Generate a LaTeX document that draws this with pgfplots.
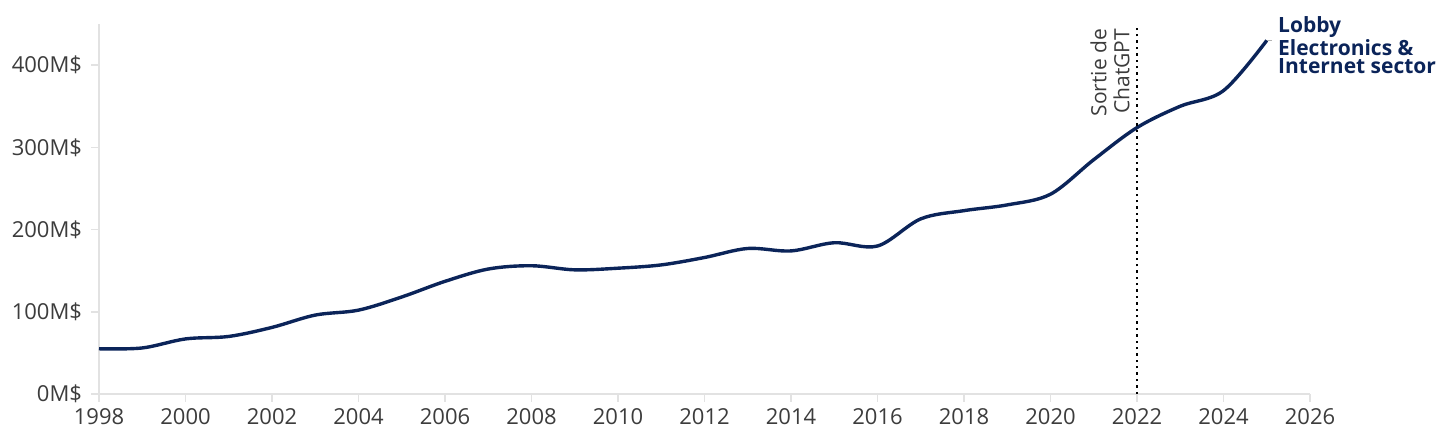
\documentclass[border=0pt]{standalone}
\usepackage{pgfplots}
\pgfplotsset{compat=1.18}
\usepackage{fontspec}
\setmainfont{Open Sans}
\definecolor{navy}{HTML}{0B2459}
\definecolor{axgray}{HTML}{E2E2E2}
\definecolor{txtgray}{HTML}{3C3C3C}
\begin{document}
\begin{tikzpicture}
\useasboundingbox (-49.5bp,-23.5bp) rectangle (678.5bp,197bp);
\begin{axis}[
  at={(0,0)}, anchor=south west,
  scale only axis,
  width=605.5bp, height=185bp,
  xmin=1998, xmax=2026, ymin=0, ymax=450,
  axis x line=bottom, axis y line=left,
  axis line style={axgray, line width=0.8bp, -},
  every tick/.style={axgray, line width=0.8bp},
  tick align=outside,
  major tick length=4bp,
  xtick={1998,2000,...,2026},
  xticklabels={1998,2000,2002,2004,2006,2008,2010,2012,2014,2016,2018,2020,2022,2024,2026},
  ytick={0,100,200,300,400},
  yticklabels={0M\$,100M\$,200M\$,300M\$,400M\$},
  ticklabel style={font=\fontsize{11bp}{12bp}\selectfont, text=txtgray},
  yticklabel style={xshift=-1bp},
  clip=false,
]
\addplot[navy, line width=1.7bp, smooth, tension=0.55] coordinates {
(1998,55) (1999,56) (2000,67) (2001,70) (2002,81) (2003,96) (2004,102)
(2005,118) (2006,137) (2007,152) (2008,156) (2009,151) (2010,153)
(2011,157) (2012,166) (2013,177) (2014,174) (2015,184) (2016,180)
(2017,213) (2018,223) (2019,230) (2020,243) (2021,285) (2022,324)
(2023,350) (2024,369) (2025,430)
};
\draw[black, line width=1.2bp, dotted] (axis cs:2022,0) -- (axis cs:2022,449);
\node[rotate=90, anchor=south east, align=right, inner sep=1bp,
      font=\fontsize{10.5bp}{11.5bp}\selectfont, text=txtgray]
  at ([xshift=-2.5bp]axis cs:2022,447) {Sortie de\\ChatGPT};
\draw[gray!60, line width=0.6bp] (axis cs:2025,430) -- ([xshift=2.5bp]axis cs:2025,430);
\node[anchor=north west, align=left, inner sep=0bp,
      font=\bfseries\fontsize{10.5bp}{9.3bp}\selectfont, text=navy]
  at ([xshift=5.5bp]axis cs:2025,460) {Lobby\\Electronics \&\\Internet sector};
\end{axis}
\end{tikzpicture}
\end{document}
